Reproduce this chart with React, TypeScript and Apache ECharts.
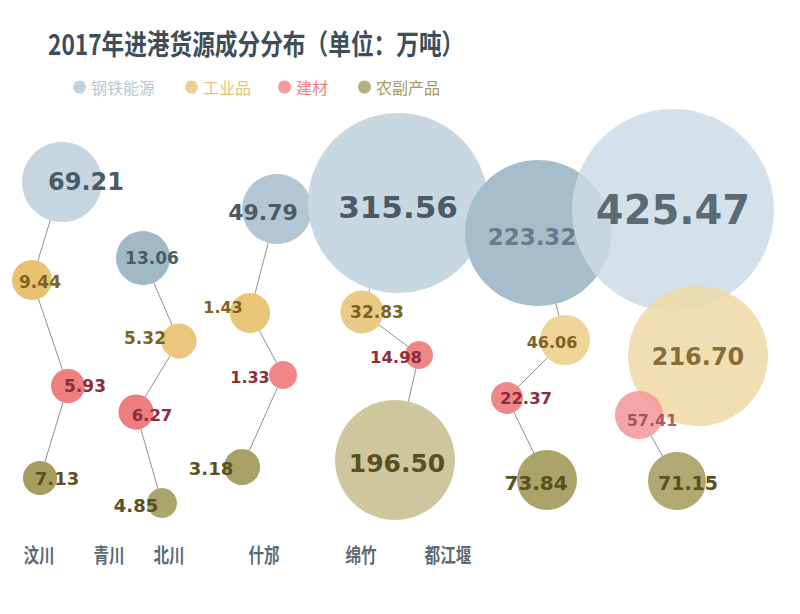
import { useEffect, useRef } from "react";
import * as echarts from "echarts";

// ---------- data ----------
const cities = ["汶川", "青川", "北川", "什邡", "绵竹", "都江堰"];
const categories = ["钢铁能源", "工业品", "建材", "农副产品"];
const steelEnergy = [69.21, 13.06, 49.79, 315.56, 223.32, 425.47];
const industrial = [9.44, 5.32, 1.43, 32.83, 46.06, 216.7];
const building = [5.93, 6.27, 1.33, 14.98, 22.37, 57.41];
const agricultural = [7.13, 4.85, 3.18, 196.5, 73.84, 71.15];
const seriesValues = [steelEnergy, industrial, building, agricultural];
const titleText = "2017年进港货源成分分布（单位：万吨）";

// ---------- layout (positions in axis units, radii, label offsets) ----------
const layoutX = [
  [62, 143, 277, 398, 538, 673],
  [32, 179, 250, 362, 565, 698],
  [68, 136, 283, 419, 507, 639],
  [40, 162, 242, 395, 547, 677],
];
const layoutY = [
  [182, 258, 209, 203, 233, 210],
  [280, 341, 313, 312, 340, 356],
  [386, 412, 375, 355, 398, 415],
  [478, 503, 467, 460, 480, 481],
];
const layoutR = [
  [40, 27, 35, 90, 73, 101],
  [20, 17.5, 20, 21.5, 25, 70],
  [17, 17.5, 14, 14, 16, 24],
  [17, 15, 18, 60, 30, 29],
];
const labelDX = [
  [24, 9, -14, 0, -6, 0],
  [8, -34, -27, 15, -13, 0],
  [17, 16, -33, -23, 19, 13],
  [17, -26, -31, 2, -11, 11],
];
const labelDY = [
  [0, 0, 3, 4, 4, 0],
  [2, -3, -6, 0, 2, 1],
  [0, 3, 2, 2, 0, 5],
  [0, 2, 1, 3, 3, 2],
];
const labelSize = [
  [24, 17, 22, 31, 23, 40],
  [17, 17, 16, 17, 16, 24],
  [17, 16.5, 16, 16.5, 16.5, 16],
  [18, 18, 18, 25, 20, 19],
];
const cityLabelX = [39, 109, 169, 264, 361, 448];
const cityLabelY = 554;

// ---------- styles ----------
const baseColors = ["#b4c8d6", "#e8c476", "#ef8383", "#a59b5e"];
const bubbleColors = [
  ["#c6d6e0", "#a1b9c7", "#b2c7d3", "#c8d8e2", "#a6bdcb", "#cddce6"],
  ["#e8c273", "#ebc67c", "#e9c577", "#ebca85", "#efd497", "#efd9a6"],
  ["#ee7f7f", "#ee7d7d", "#f08686", "#ef8686", "#ef8888", "#f29a9a"],
  ["#a69c60", "#aca46d", "#a9a066", "#cec79e", "#aba36a", "#b1a971"],
];
const bubbleOpacity = [
  [1, 1, 1, 1, 1, 0.85],
  [1, 1, 1, 1, 1, 0.85],
  [1, 1, 1, 1, 1, 0.88],
  [1, 1, 1, 1, 1, 1],
];
const labelColors = [
  ["#4a5b67", "#4a5b67", "#4a5b67", "#4a5b67", "#657c8c", "#46555f"],
  ["#80621f", "#80621f", "#80621f", "#80621f", "#80621f", "#735a22"],
  ["#8c2c3c", "#8c2c3c", "#8c2c3c", "#8c2c3c", "#8c2c3c", "#a04656"],
  ["#5a5120", "#5a5120", "#5a5120", "#5a5120", "#5a5120", "#5a5120"],
];
const legendLeft = [68, 180, 273, 353];
const numFont = "DejaVu Sans";
const cjkFont = "Noto Sans CJK SC";

export default function App() {
  const ref = useRef<HTMLDivElement>(null);

  useEffect(() => {
    if (!ref.current) return;
    const chart = echarts.init(ref.current, undefined, { renderer: "svg" });

    const lineSeries = cities.map((city, ci) => ({
      type: "line",
      name: city + "-link",
      silent: true,
      symbol: "none",
      z: 1,
      lineStyle: { color: "#8f8f8f", width: 1 },
      data: categories.map((_, k) => [layoutX[k][ci], layoutY[k][ci]]),
    }));

    // white underlay so connecting lines stay hidden beneath translucent bubbles
    const underlaySeries = categories.map((cat, k) => ({
      type: "scatter",
      name: cat + "-underlay",
      silent: true,
      z: 1.5,
      itemStyle: { color: "#ffffff", opacity: 1 },
      symbolSize: (val: number[]) => val[3] * 2,
      data: seriesValues[k].map((v, ci) => [layoutX[k][ci], layoutY[k][ci], v, layoutR[k][ci]]),
    }));

    const bubbleSeries = categories.map((cat, k) => ({
      type: "scatter",
      name: cat,
      z: 2,
      itemStyle: { color: baseColors[k] },
      symbolSize: (val: number[]) => val[3] * 2,
      label: {
        show: true,
        position: "inside",
        fontFamily: numFont,
        fontWeight: "bold",
        formatter: (p: any) => Number(p.value[2]).toFixed(2),
      },
      data: seriesValues[k].map((v, ci) => ({
        name: cities[ci],
        value: [layoutX[k][ci], layoutY[k][ci], v, layoutR[k][ci]],
        itemStyle: { color: bubbleColors[k][ci], opacity: bubbleOpacity[k][ci] },
        label: {
          offset: [labelDX[k][ci], labelDY[k][ci]],
          fontSize: labelSize[k][ci],
          color: labelColors[k][ci],
        },
      })),
    }));

    const option: any = {
      animation: false,
      backgroundColor: "#ffffff",
      grid: { left: 0, right: 0, top: 0, bottom: 0 },
      xAxis: { type: "value", min: 0, max: 800, show: false },
      yAxis: { type: "value", min: 0, max: 614, inverse: true, show: false },
      legend: categories.map((cat, k) => ({
        data: [cat],
        left: legendLeft[k],
        top: 74,
        icon: "circle",
        itemWidth: 13,
        itemHeight: 13,
        selectedMode: false,
        textStyle: { color: baseColors[k], fontSize: 16, fontFamily: cjkFont },
      })),
      graphic: [
        {
          type: "text",
          x: 48,
          y: 42,
          scaleX: 0.81,
          style: {
            text: titleText,
            fill: "#3e4e59",
            fontSize: 28,
            fontWeight: "bold",
            fontFamily: cjkFont,
            textAlign: "left",
            textVerticalAlign: "middle",
          },
        },
        ...cities.map((c, ci) => ({
          type: "text",
          x: cityLabelX[ci],
          y: cityLabelY,
          scaleX: 0.78,
          style: {
            text: c,
            fill: "#5b6b76",
            fontSize: 20,
            fontWeight: "bold",
            fontFamily: cjkFont,
            textAlign: "center",
            textVerticalAlign: "middle",
          },
        })),
      ],
      series: [...lineSeries, ...underlaySeries, ...bubbleSeries],
    };

    chart.setOption(option);
    return () => chart.dispose();
  }, []);

  return (
    <div
      ref={ref}
      style={{ position: "fixed", left: 0, top: 0, width: 800, height: 614 }}
    />
  );
}
